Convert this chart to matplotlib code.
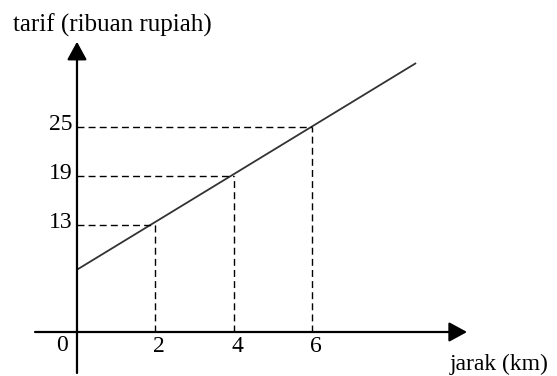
import matplotlib
matplotlib.use("Agg")
import matplotlib.pyplot as plt

# nilai yang dibaca dari gambar
jarak = [2, 4, 6]
tarif = [13, 19, 25]
garis_x = [0, 8.65]
garis_y = [7.6, 32.8]
label_x = ["2", "4", "6"]
label_y = ["13", "19", "25"]

plt.rcParams["font.family"] = ["Liberation Serif", "DejaVu Serif"]

fig = plt.figure(figsize=(5.57, 3.76), dpi=100)
ax = fig.add_axes([0, 0, 1, 1])
ax.set_xlim(-1.964, 12.245)
ax.set_ylim(-5.366, 40.49)
ax.axis("off")

# sumbu dengan panah
arrow = dict(arrowstyle="-|>,head_length=1.1,head_width=0.6", lw=1.6,
             color="black", mutation_scale=10, shrinkA=0, shrinkB=0)
ax.annotate("", xy=(9.95, 0), xytext=(-1.07, 0), arrowprops=arrow)
ax.annotate("", xy=(0, 35.4), xytext=(0, -5.0), arrowprops=arrow)

# garis tarif
ax.plot(garis_x, garis_y, color="#333333", lw=1.3, solid_capstyle="butt")

# garis bantu putus-putus
for xv, yv in zip(jarak, tarif):
    ax.plot([0, xv], [yv, yv], color="black", lw=1.0, dashes=(5, 3))
    ax.plot([xv, xv], [0, yv], color="black", lw=1.0, dashes=(5, 3))

fs = 17
for yv, lab in zip(tarif, label_y):
    ax.text(-0.12, yv + 0.3, lab, ha="right", va="center", fontsize=fs)
for xv, lab in zip(jarak, label_x):
    ax.text(xv + 0.1, -1.8, lab, ha="center", va="center", fontsize=fs)
ax.text(-0.38, -1.7, "0", ha="center", va="center", fontsize=fs)

ax.text(-1.63, 37.44, "tarif (ribuan rupiah)", ha="left", va="center", fontsize=18)
ax.text(9.51, -4.0, "jarak (km)", ha="left", va="center", fontsize=fs)

fig.savefig("out.png", dpi=100)
